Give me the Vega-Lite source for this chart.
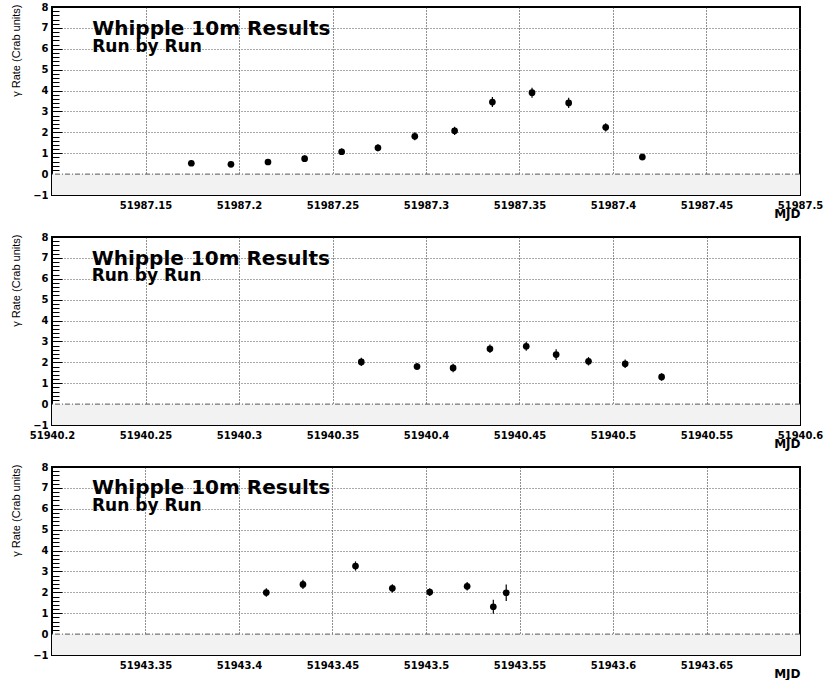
{
  "$schema": "https://vega.github.io/schema/vega-lite/v6.json",
  "padding": {"left": 8, "top": 1, "right": 0, "bottom": 0},
  "background": "white",
  "spacing": 42,
  "bounds": "flush",
  "datasets": {
    "p1": [
      {"mjd": 51987.1745, "rate": 0.52, "lo": 0.39, "hi": 0.65},
      {"mjd": 51987.1957, "rate": 0.47, "lo": 0.34, "hi": 0.6},
      {"mjd": 51987.2155, "rate": 0.58, "lo": 0.45, "hi": 0.71},
      {"mjd": 51987.2351, "rate": 0.74, "lo": 0.59, "hi": 0.89},
      {"mjd": 51987.2549, "rate": 1.07, "lo": 0.91, "hi": 1.23},
      {"mjd": 51987.2743, "rate": 1.26, "lo": 1.09, "hi": 1.43},
      {"mjd": 51987.294, "rate": 1.81, "lo": 1.62, "hi": 2.0},
      {"mjd": 51987.3153, "rate": 2.07, "lo": 1.87, "hi": 2.27},
      {"mjd": 51987.3355, "rate": 3.45, "lo": 3.21, "hi": 3.69},
      {"mjd": 51987.3567, "rate": 3.9, "lo": 3.66, "hi": 4.14},
      {"mjd": 51987.3763, "rate": 3.41, "lo": 3.17, "hi": 3.65},
      {"mjd": 51987.3961, "rate": 2.24, "lo": 2.04, "hi": 2.44},
      {"mjd": 51987.4157, "rate": 0.82, "lo": 0.66, "hi": 0.98}
    ],
    "p2": [
      {"mjd": 51940.3654, "rate": 2.02, "lo": 1.82, "hi": 2.22},
      {"mjd": 51940.3952, "rate": 1.8, "lo": 1.63, "hi": 1.97},
      {"mjd": 51940.4145, "rate": 1.73, "lo": 1.53, "hi": 1.93},
      {"mjd": 51940.4342, "rate": 2.65, "lo": 2.45, "hi": 2.85},
      {"mjd": 51940.4536, "rate": 2.77, "lo": 2.55, "hi": 2.99},
      {"mjd": 51940.4696, "rate": 2.37, "lo": 2.11, "hi": 2.63},
      {"mjd": 51940.4869, "rate": 2.05, "lo": 1.85, "hi": 2.25},
      {"mjd": 51940.5065, "rate": 1.93, "lo": 1.73, "hi": 2.13},
      {"mjd": 51940.526, "rate": 1.3, "lo": 1.12, "hi": 1.48}
    ],
    "p3": [
      {"mjd": 51943.4146, "rate": 1.99, "lo": 1.79, "hi": 2.19},
      {"mjd": 51943.4342, "rate": 2.38, "lo": 2.16, "hi": 2.6},
      {"mjd": 51943.4623, "rate": 3.26, "lo": 3.04, "hi": 3.48},
      {"mjd": 51943.482, "rate": 2.19, "lo": 1.99, "hi": 2.39},
      {"mjd": 51943.502, "rate": 2.01, "lo": 1.83, "hi": 2.19},
      {"mjd": 51943.522, "rate": 2.29, "lo": 2.09, "hi": 2.49},
      {"mjd": 51943.536, "rate": 1.31, "lo": 0.97, "hi": 1.65},
      {"mjd": 51943.5429, "rate": 1.98, "lo": 1.58, "hi": 2.38}
    ]
  },
  "vconcat": [
    {
      "width": 748, "height": 188,
      "layer": [
        {"data": {"name": "p1"}, "mark": {"type": "point", "filled": true, "shape": "circle", "size": 45, "color": "black", "opacity": 1},
         "encoding": {
           "x": {"field": "mjd", "type": "quantitative", "scale": {"domain": [51987.1, 51987.5], "nice": false, "zero": false},
             "axis": {
               "values": [51987.1, 51987.125, 51987.15, 51987.175, 51987.2, 51987.225, 51987.25, 51987.275, 51987.3, 51987.325, 51987.35, 51987.375, 51987.4, 51987.425, 51987.45, 51987.475, 51987.5],
               "labelExpr": "round(datum.value*40)%2===0 && datum.value > 51987.11 ? format(datum.value, '.7~r') : ''",
               "tickSize": {"condition": {"test": "round(datum.value*40)%2===0", "value": -5}, "value": -3},
               "gridOpacity": {"condition": {"test": "round(datum.value*40)%2===0 && datum.value > 51987.11 && datum.value < 51987.49", "value": 1}, "value": 0},
               "title": "MJD"
             }},
           "y": {"field": "rate", "type": "quantitative", "scale": {"domain": [-1, 8], "nice": false, "zero": false},
             "axis": {
               "values": [-1,-0.8,-0.6,-0.4,-0.2,0,0.2,0.4,0.6,0.8,1,1.2,1.4,1.6,1.8,2,2.2,2.4,2.6,2.8,3,3.2,3.4,3.6,3.8,4,4.2,4.4,4.6,4.8,5,5.2,5.4,5.6,5.8,6,6.2,6.4,6.6,6.8,7,7.2,7.4,7.6,7.8,8],
               "labelExpr": "datum.value % 1 === 0 ? format(datum.value, 'd') : ''",
               "tickSize": {"condition": {"test": "datum.value % 1 === 0", "value": -10}, "value": -7},
               "gridOpacity": {"condition": {"test": "datum.value % 1 === 0 && datum.value > -1 && datum.value < 8 && datum.value !== 0", "value": 1}, "value": 0},
               "title": "γ Rate (Crab units)"
             }}
         }},
        {"data": {"name": "p1"}, "mark": {"type": "rule", "color": "black", "strokeWidth": 1.2},
         "encoding": {"x": {"field": "mjd", "type": "quantitative"}, "y": {"field": "lo", "type": "quantitative"}, "y2": {"field": "hi"}}},
        {"data": {"values": [{}]}, "mark": {"type": "rect", "color": "#f2f2f2"},
         "encoding": {"y": {"datum": -1, "type": "quantitative"}, "y2": {"datum": 0}}},
        {"data": {"values": [{}]}, "mark": {"type": "rule", "color": "#555555", "strokeDash": [5, 2, 1, 2], "strokeWidth": 1},
         "encoding": {"y": {"datum": 0, "type": "quantitative"}}},
        {"data": {"values": [{}]}, "mark": {"type": "text", "font": "DejaVu Sans", "fontWeight": "bold", "fontSize": 20, "align": "left", "baseline": "alphabetic", "color": "black"},
         "encoding": {"x": {"datum": 51987.1215, "type": "quantitative"}, "y": {"datum": 6.68, "type": "quantitative"}, "text": {"value": "Whipple 10m Results"}}},
        {"data": {"values": [{}]}, "mark": {"type": "text", "font": "DejaVu Sans", "fontWeight": "bold", "fontSize": 17, "align": "left", "baseline": "alphabetic", "color": "black"},
         "encoding": {"x": {"datum": 51987.1215, "type": "quantitative"}, "y": {"datum": 5.86, "type": "quantitative"}, "text": {"value": "Run by Run"}}}
      ]
    },
    {
      "width": 748, "height": 188,
      "layer": [
        {"data": {"name": "p2"}, "mark": {"type": "point", "filled": true, "shape": "circle", "size": 45, "color": "black", "opacity": 1},
         "encoding": {
           "x": {"field": "mjd", "type": "quantitative", "scale": {"domain": [51940.2, 51940.6], "nice": false, "zero": false},
             "axis": {
               "values": [51940.2, 51940.225, 51940.25, 51940.275, 51940.3, 51940.325, 51940.35, 51940.375, 51940.4, 51940.425, 51940.45, 51940.475, 51940.5, 51940.525, 51940.55, 51940.575, 51940.6],
               "labelExpr": "round(datum.value*40)%2===0 ? format(datum.value, '.7~r') : ''",
               "tickSize": {"condition": {"test": "round(datum.value*40)%2===0", "value": -5}, "value": -3},
               "gridOpacity": {"condition": {"test": "round(datum.value*40)%2===0 && datum.value > 51940.21 && datum.value < 51940.59", "value": 1}, "value": 0},
               "title": "MJD"
             }},
           "y": {"field": "rate", "type": "quantitative", "scale": {"domain": [-1, 8], "nice": false, "zero": false},
             "axis": {
               "values": [-1,-0.8,-0.6,-0.4,-0.2,0,0.2,0.4,0.6,0.8,1,1.2,1.4,1.6,1.8,2,2.2,2.4,2.6,2.8,3,3.2,3.4,3.6,3.8,4,4.2,4.4,4.6,4.8,5,5.2,5.4,5.6,5.8,6,6.2,6.4,6.6,6.8,7,7.2,7.4,7.6,7.8,8],
               "labelExpr": "datum.value % 1 === 0 ? format(datum.value, 'd') : ''",
               "tickSize": {"condition": {"test": "datum.value % 1 === 0", "value": -10}, "value": -7},
               "gridOpacity": {"condition": {"test": "datum.value % 1 === 0 && datum.value > -1 && datum.value < 8 && datum.value !== 0", "value": 1}, "value": 0},
               "title": "γ Rate (Crab units)"
             }}
         }},
        {"data": {"name": "p2"}, "mark": {"type": "rule", "color": "black", "strokeWidth": 1.2},
         "encoding": {"x": {"field": "mjd", "type": "quantitative"}, "y": {"field": "lo", "type": "quantitative"}, "y2": {"field": "hi"}}},
        {"data": {"values": [{}]}, "mark": {"type": "rect", "color": "#f2f2f2"},
         "encoding": {"y": {"datum": -1, "type": "quantitative"}, "y2": {"datum": 0}}},
        {"data": {"values": [{}]}, "mark": {"type": "rule", "color": "#555555", "strokeDash": [5, 2, 1, 2], "strokeWidth": 1},
         "encoding": {"y": {"datum": 0, "type": "quantitative"}}},
        {"data": {"values": [{}]}, "mark": {"type": "text", "font": "DejaVu Sans", "fontWeight": "bold", "fontSize": 20, "align": "left", "baseline": "alphabetic", "color": "black"},
         "encoding": {"x": {"datum": 51940.2212, "type": "quantitative"}, "y": {"datum": 6.68, "type": "quantitative"}, "text": {"value": "Whipple 10m Results"}}},
        {"data": {"values": [{}]}, "mark": {"type": "text", "font": "DejaVu Sans", "fontWeight": "bold", "fontSize": 17, "align": "left", "baseline": "alphabetic", "color": "black"},
         "encoding": {"x": {"datum": 51940.2212, "type": "quantitative"}, "y": {"datum": 5.88, "type": "quantitative"}, "text": {"value": "Run by Run"}}}
      ]
    },
    {
      "width": 748, "height": 188,
      "layer": [
        {"data": {"name": "p3"}, "mark": {"type": "point", "filled": true, "shape": "circle", "size": 45, "color": "black", "opacity": 1},
         "encoding": {
           "x": {"field": "mjd", "type": "quantitative", "scale": {"domain": [51943.3, 51943.7], "nice": false, "zero": false},
             "axis": {
               "values": [51943.3, 51943.325, 51943.35, 51943.375, 51943.4, 51943.425, 51943.45, 51943.475, 51943.5, 51943.525, 51943.55, 51943.575, 51943.6, 51943.625, 51943.65, 51943.675, 51943.7],
               "labelExpr": "round(datum.value*40)%2===0 && datum.value > 51943.31 && datum.value < 51943.69 ? format(datum.value, '.7~r') : ''",
               "tickSize": {"condition": {"test": "round(datum.value*40)%2===0", "value": -5}, "value": -3},
               "gridOpacity": {"condition": {"test": "round(datum.value*40)%2===0 && datum.value > 51943.31 && datum.value < 51943.69", "value": 1}, "value": 0},
               "title": "MJD"
             }},
           "y": {"field": "rate", "type": "quantitative", "scale": {"domain": [-1, 8], "nice": false, "zero": false},
             "axis": {
               "values": [-1,-0.8,-0.6,-0.4,-0.2,0,0.2,0.4,0.6,0.8,1,1.2,1.4,1.6,1.8,2,2.2,2.4,2.6,2.8,3,3.2,3.4,3.6,3.8,4,4.2,4.4,4.6,4.8,5,5.2,5.4,5.6,5.8,6,6.2,6.4,6.6,6.8,7,7.2,7.4,7.6,7.8,8],
               "labelExpr": "datum.value % 1 === 0 ? format(datum.value, 'd') : ''",
               "tickSize": {"condition": {"test": "datum.value % 1 === 0", "value": -10}, "value": -7},
               "gridOpacity": {"condition": {"test": "datum.value % 1 === 0 && datum.value > -1 && datum.value < 8 && datum.value !== 0", "value": 1}, "value": 0},
               "title": "γ Rate (Crab units)"
             }}
         }},
        {"data": {"name": "p3"}, "mark": {"type": "rule", "color": "black", "strokeWidth": 1.2},
         "encoding": {"x": {"field": "mjd", "type": "quantitative"}, "y": {"field": "lo", "type": "quantitative"}, "y2": {"field": "hi"}}},
        {"data": {"values": [{}]}, "mark": {"type": "rect", "color": "#f2f2f2"},
         "encoding": {"y": {"datum": -1, "type": "quantitative"}, "y2": {"datum": 0}}},
        {"data": {"values": [{}]}, "mark": {"type": "rule", "color": "#555555", "strokeDash": [5, 2, 1, 2], "strokeWidth": 1},
         "encoding": {"y": {"datum": 0, "type": "quantitative"}}},
        {"data": {"values": [{}]}, "mark": {"type": "text", "font": "DejaVu Sans", "fontWeight": "bold", "fontSize": 20, "align": "left", "baseline": "alphabetic", "color": "black"},
         "encoding": {"x": {"datum": 51943.3214, "type": "quantitative"}, "y": {"datum": 6.69, "type": "quantitative"}, "text": {"value": "Whipple 10m Results"}}},
        {"data": {"values": [{}]}, "mark": {"type": "text", "font": "DejaVu Sans", "fontWeight": "bold", "fontSize": 17, "align": "left", "baseline": "alphabetic", "color": "black"},
         "encoding": {"x": {"datum": 51943.3214, "type": "quantitative"}, "y": {"datum": 5.9, "type": "quantitative"}, "text": {"value": "Run by Run"}}}
      ]
    }
  ],
  "config": {
    "view": {"stroke": "black", "strokeWidth": 2},
    "axis": {
      "zindex": 1,
      "domain": false,
      "tickColor": "black",
      "tickWidth": 1,
      "grid": true,
      "gridDash": [1, 2],
      "gridWidth": 1,
      "labelFont": "DejaVu Sans",
      "labelFontWeight": "bold",
      "labelFontSize": 10,
      "labelColor": "black",
      "labelBound": false,
      "labelFlush": false,
      "labelOverlap": false
    },
    "axisX": {
      "tickCount": 40,
      "gridColor": "#222222",
      "labelPadding": 10,
      "titleFont": "DejaVu Sans",
      "titleFontWeight": "bold",
      "titleFontSize": 12,
      "titleColor": "black",
      "titleAnchor": "end",
      "titleAlign": "right",
      "titleBaseline": "alphabetic",
      "titleY": 22
    },
    "axisY": {
      "tickCount": 100,
      "gridColor": "#555555",
      "labelPadding": 14,
      "titleFont": "Liberation Sans",
      "titleFontWeight": "normal",
      "titleFontSize": 11,
      "titleColor": "black",
      "titleAnchor": "end",
      "titleAngle": -90,
      "titleAlign": "right",
      "titleBaseline": "middle",
      "titleX": -36,
      "titleY": -3
    }
  }
}
